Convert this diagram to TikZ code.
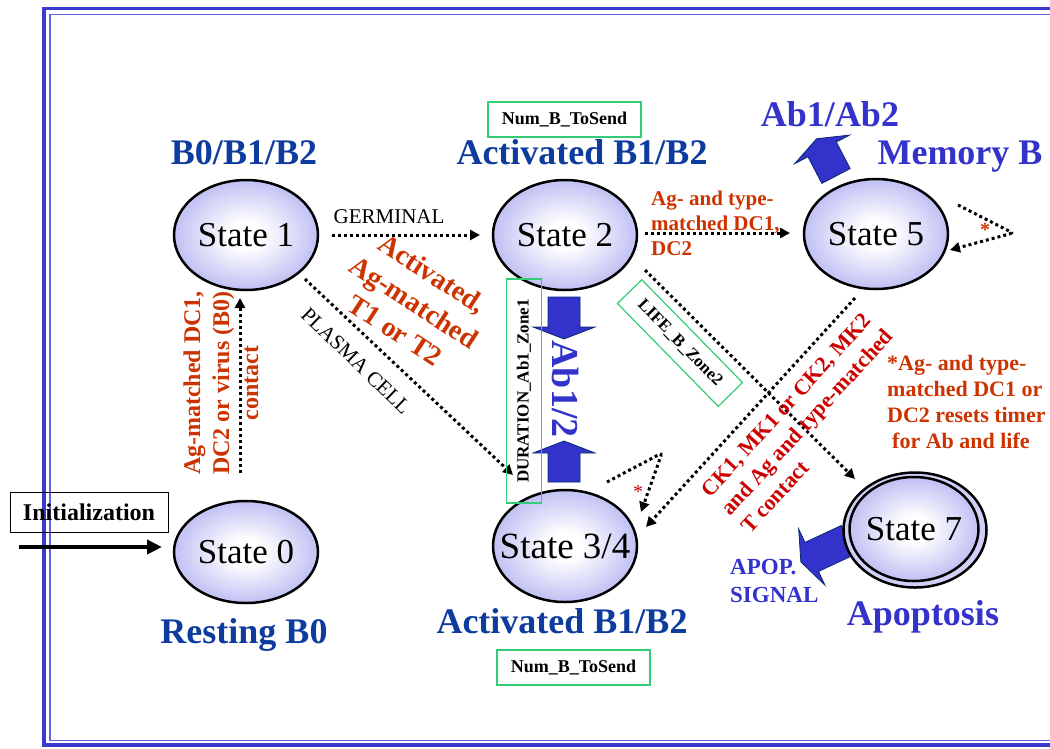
\documentclass[tikz,border=0pt]{standalone}
\usepackage{fontspec}
\setmainfont{Liberation Serif}
\usetikzlibrary{arrows.meta,shapes.geometric,calc}

\definecolor{deepblue}{HTML}{0D3B9E}
\definecolor{abblue}{HTML}{3333CC}
\definecolor{rust}{HTML}{CC3300}
\definecolor{crimson}{HTML}{CC0000}
\definecolor{mint}{HTML}{33CC77}
\definecolor{framedark}{HTML}{3A3ACF}
\definecolor{framelight}{HTML}{6262E2}
\definecolor{lav}{HTML}{C0C0F4}

\pgfdeclareradialshading{stateshade}{\pgfpointorigin}{color(0bp)=(white); color(6bp)=(white); color(25bp)=(lav); color(50bp)=(lav)}

% block arrow: base centre (#1,#2), turned by #3 degrees, shaft length #4
\newcommand{\blockarrow}[4]{%
  \begin{scope}[shift={(#1,#2)},rotate=#3]
    \filldraw[blockarrowstyle] (-16,0) -- (-16,-#4) -- (-31,-#4) -- (0,-#4-12)
      -- (31,-#4) -- (16,-#4) -- (16,0) -- cycle;
  \end{scope}}

\begin{document}
\begin{tikzpicture}[x=1pt,y=-1pt,
  statetext/.style={font=\fontsize{35}{40}\selectfont, inner sep=0pt},
  state/.style={ellipse, draw=black, line width=2.5pt, minimum width=144pt,
    minimum height=110pt, inner sep=0pt, shading=stateshade,
    label={[statetext]center:#1}},
  flow/.style={line width=3pt, dash pattern=on 3pt off 3pt,
    -{Triangle[length=10pt,width=10pt]}},
  tagbox/.style={draw=mint, line width=1.2pt, inner sep=0pt,
    font=\bfseries\fontsize{17}{20}\selectfont},
  heading/.style={font=\bfseries\fontsize{36}{40}\selectfont, anchor=base, inner sep=0pt},
  condtext/.style={font=\bfseries\fontsize{22}{25.7}\selectfont, text=rust, inner sep=0pt},
  edgetext/.style={font=\fontsize{21}{24}\selectfont, inner sep=0pt},
  blockarrowstyle/.style={fill=abblue, draw=deepblue!70!black, line width=0.8pt, line join=miter}
]
\useasboundingbox (0,0) rectangle (1050,748);

% double frame
\draw[framedark, line width=3.5pt] (44,8.5) rectangle (1080,745);
\draw[framelight, line width=1.8pt] (50,14.5) rectangle (1074,740.5);

% block arrows (drawn under the states)
\blockarrow{564}{297}{180}{30}
\blockarrow{564}{482}{0}{29}
\blockarrow{836}{176}{27.5}{30}
\blockarrow{848}{540}{115}{40}

% states
\node[state={State 1}] (s1) at (246,235) {};
\node[state={State 2}] (s2) at (565,235) {};
\node[state={State 5}] (s5) at (876,234) {};
\node[state={State 0}, minimum height=102pt] (s0) at (246,552) {};
\node[state={\fontsize{37}{40}\selectfont State 3/4}, minimum height=112pt] (s34) at (565,546) {};
\node[ellipse, draw=black, line width=2.5pt, fill=lav!75, minimum width=143pt,
  minimum height=115pt] (s7o) at (915,530) {};
\node[state={State 7}, minimum width=129pt, minimum height=104pt] (s7) at (914,529) {};

% initialization
\node[draw=black, line width=1pt, minimum width=158pt, minimum height=40pt, inner sep=0pt,
  font=\bfseries\fontsize{24}{28}\selectfont] (init) at (89,512) {Initialization};
\coordinate (initstart) at (19,547);
\draw[line width=4.5pt, -{Triangle[length=15pt,width=14pt]}] (initstart) -- ($(s0)+(-84,-5)$);

% transitions
\draw[flow] ($(s0)+(-6,-79)$) -- ($(s1)+(-6,63)$);
\draw[flow] ($(s1)+(86,0)$) -- ($(s2)+(-85,0)$);
\draw[flow] ($(s1)+(59,44)$) -- ($(s34)+(-52,-71)$);
\draw[flow] ($(s2)+(80,-2)$) -- ($(s5)+(-86,-1)$);
\draw[flow] ($(s2)+(80,35)$) -- ($(s7)+(-59,-50)$);
\draw[flow] ($(s5)+(-21,64)$) -- ($(s34)+(81,-19)$);
\draw[flow, rounded corners=3pt] ($(s5)+(82,-29)$) -- ($(s5)+(137,-1)$) -- ($(s5)+(74,16)$);
\draw[flow, rounded corners=3pt] ($(s34)+(42,-64)$) -- ($(s34)+(97,-93)$) -- ($(s34)+(76,-34)$);

% timer boxes
\node[tagbox, font=\bfseries\fontsize{18}{20}\selectfont, minimum width=153pt, minimum height=35pt]
  (nbtop) at (564.5,119.5) {Num\_B\_ToSend};
\node[tagbox, font=\bfseries\fontsize{18}{20}\selectfont, minimum width=153pt, minimum height=35pt]
  (nbbot) at (573.5,667.5) {Num\_B\_ToSend};
\node[tagbox, rotate=90, minimum width=224pt, minimum height=35pt] (dur) at (524,391) {DURATION\_Ab1\_Zone1};
\node[tagbox, rotate=-45.6, minimum width=144pt, minimum height=34pt] (life) at (680,343) {LIFE\_B\_Zone2};

% state titles
\node[heading, text=deepblue] (lb1) at (244,164) {B0/B1/B2};
\node[heading, text=deepblue] (lb2) at (582,164) {Activated B1/B2};
\node[heading, text=abblue] (lb5) at (960,164) {Memory B};
\node[heading, text=abblue] (lab) at (830,126) {Ab1/Ab2};
\node[heading, text=deepblue] (lb0) at (244,643) {Resting B0};
\node[heading, text=deepblue] (lb34) at (562,633) {Activated B1/B2};
\node[heading, text=abblue] (lb7) at (923,625) {Apoptosis};
\node[font=\bfseries\fontsize{23}{28}\selectfont, text=abblue, align=left, anchor=west,
  inner sep=0pt] (apop) at (730,581) {APOP.\\SIGNAL};
\node[font=\bfseries\fontsize{38}{40}\selectfont, text=abblue, rotate=-90] (ab12) at (565,389) {Ab1/2};

% transition labels
\node[edgetext, anchor=base] (germ) at (389,223) {GERMINAL};
\node[edgetext, rotate=-44] (plas) at (356,361) {PLASMA CELL};
\node[condtext, font=\bfseries\fontsize{28}{34}\selectfont, rotate=-33, align=center]
  (tact) at (414,302) {Activated,\\Ag-matched\\T1 or T2};
\node[condtext, font=\bfseries\fontsize{24}{29}\selectfont, rotate=90, align=center]
  (tb0) at (221,383) {Ag-matched DC1,\\DC2 or virus (B0)\\contact};
\node[condtext, anchor=west, align=left, font=\bfseries\fontsize{21}{25}\selectfont]
  (t25) at (651,223) {Ag- and type-\\matched DC1,\\DC2};
\node[condtext, anchor=west, align=left] (tnote) at (887,402)
  {*Ag- and type-\\matched DC1 or\\DC2 resets timer\\\hspace*{5pt}for Ab and life};
\node[condtext, text=crimson, rotate=47.5, align=left, font=\bfseries\fontsize{22}{27}\selectfont]
  (t534) at (807,422) {CK1, MK1 or CK2, MK2\\and Ag and type-matched\\T contact};
\node[text=rust, font=\bfseries\fontsize{20}{20}\selectfont, inner sep=0pt] (st5) at (985,230) {*};
\node[text=crimson, font=\fontsize{20}{20}\selectfont, inner sep=0pt] (st34) at (638,492) {*};
\end{tikzpicture}
\end{document}
